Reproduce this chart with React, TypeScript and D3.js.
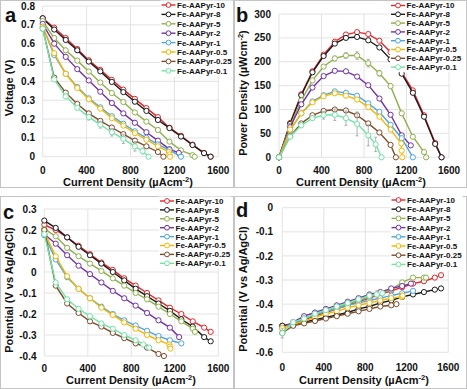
import React from 'react';
import * as d3 from 'd3';

// series names + colours (legend order)
const NAMES = ['Fe-AAPyr-10', 'Fe-AAPyr-8', 'Fe-AAPyr-5', 'Fe-AAPyr-2', 'Fe-AAPyr-1', 'Fe-AAPyr-0.5', 'Fe-AAPyr-0.25', 'Fe-AAPyr-0.1'];
const COLORS = ['#e3262b', '#1b1b1b', '#8fb04c', '#7232a3', '#4ba6e0', '#f2b705', '#7d4b2b', '#72e3a6'];

// current density (µA cm-2) sampled for each series
const I10 = [0, 105, 210, 315, 420, 525, 630, 735, 840, 945, 1050, 1155, 1260, 1365, 1470, 1530];
const I8 = [0, 105, 210, 315, 420, 525, 630, 735, 840, 945, 1050, 1155, 1260, 1365, 1470, 1530];
const I5 = [0, 105, 210, 315, 420, 525, 630, 735, 840, 945, 1050, 1155, 1260, 1365, 1385];
const I2 = [0, 105, 210, 315, 420, 525, 630, 735, 840, 945, 1050, 1155, 1240];
const I1 = [0, 105, 210, 315, 420, 525, 630, 735, 840, 945, 1050, 1155, 1260];
const I05 = [0, 105, 210, 315, 420, 525, 630, 735, 840, 945, 1050, 1150, 1155, 1160];
const I025 = [0, 105, 210, 315, 420, 525, 630, 735, 840, 945, 1050, 1100];
const I01 = [0, 105, 210, 315, 420, 525, 630, 735, 840, 910, 965];

// (a) cell voltage, V
const V10 = [0.735, 0.685, 0.63, 0.572, 0.512, 0.461, 0.408, 0.356, 0.307, 0.258, 0.21, 0.154, 0.111, 0.064, 0.02, 0];
const V8 = [0.735, 0.675, 0.62, 0.565, 0.505, 0.453, 0.397, 0.343, 0.292, 0.243, 0.195, 0.152, 0.107, 0.062, 0.019, 0];
const V5 = [0.72, 0.63, 0.565, 0.51, 0.452, 0.394, 0.338, 0.29, 0.235, 0.186, 0.142, 0.08, 0.034, 0.008, 0];
const V2 = [0.705, 0.6, 0.53, 0.465, 0.405, 0.345, 0.285, 0.23, 0.18, 0.13, 0.085, 0.04, 0.02];
const V1 = [0.69, 0.54, 0.44, 0.37, 0.31, 0.262, 0.215, 0.175, 0.135, 0.1, 0.065, 0.035, 0];
const V05 = [0.69, 0.55, 0.44, 0.365, 0.305, 0.255, 0.205, 0.165, 0.125, 0.09, 0.055, 0.025, 0.012, 0];
const V025 = [0.68, 0.42, 0.34, 0.28, 0.23, 0.19, 0.155, 0.12, 0.085, 0.055, 0.025, 0];
const V01 = [0.68, 0.41, 0.32, 0.26, 0.21, 0.17, 0.13, 0.095, 0.055, 0.03, 0];
const V01err = [0, 0.01, 0.012, 0.012, 0.015, 0.018, 0.02, 0.025, 0.025, 0.015, 0];

// (b) power density, µW cm-2
const P10 = [0, 72, 132, 180, 215, 242, 257, 262, 258, 244, 220, 178, 140, 88, 30, 0];
const P8 = [0, 70, 130, 178, 212, 238, 250, 252, 245, 230, 205, 175, 135, 85, 28, 0];
const P5 = [0, 66, 119, 161, 190, 207, 213, 213, 197, 176, 149, 92, 43, 11, 0];
const P2 = [0, 63, 111, 146, 170, 181, 180, 169, 151, 123, 89, 46, 25];
const P1 = [0, 57, 92, 117, 130, 138, 135, 129, 113, 95, 68, 40, 0];
const P05 = [0, 58, 92, 115, 128, 134, 129, 121, 105, 85, 58, 29, 14, 0];
const P025 = [0, 44, 71, 88, 97, 100, 98, 88, 71, 52, 26, 0];
const P01 = [0, 43, 67, 82, 88, 89, 82, 70, 46, 27, 0];
const P5err = [0, 2, 3, 3, 4, 5, 6, 8, 8, 6, 5, 4, 3, 0, 0];
const P01err = [0, 3, 5, 5, 8, 12, 15, 25, 22, 15, 0];

// (c) cathode potential, V vs Ag/AgCl
const C10 = [0.225, 0.2, 0.165, 0.125, 0.085, 0.045, 0.01, -0.03, -0.065, -0.1, -0.135, -0.17, -0.2, -0.235, -0.265, -0.285];
const C8 = [0.245, 0.21, 0.165, 0.12, 0.08, 0.04, 0, -0.04, -0.08, -0.115, -0.15, -0.185, -0.225, -0.26, -0.31, -0.33];
const C5 = [0.205, 0.17, 0.115, 0.075, 0.04, 0.005, -0.03, -0.065, -0.1, -0.13, -0.165, -0.2, -0.235, -0.27, -0.285];
const C2 = [0.18, 0.135, 0.08, 0.03, -0.01, -0.05, -0.09, -0.125, -0.16, -0.195, -0.23, -0.265, -0.31];
const C1 = [0.175, 0.06, -0.025, -0.08, -0.125, -0.165, -0.2, -0.23, -0.255, -0.28, -0.305, -0.325, -0.34];
const C05 = [0.19, 0.075, -0.02, -0.08, -0.125, -0.17, -0.205, -0.24, -0.27, -0.3, -0.325, -0.345, -0.355, -0.365];
const C025 = [0.2, -0.065, -0.15, -0.195, -0.235, -0.26, -0.29, -0.315, -0.34, -0.36, -0.39, -0.4];
const C01 = [0.18, -0.05, -0.13, -0.175, -0.21, -0.245, -0.27, -0.3, -0.325, -0.345, -0.36];

// (d) anode potential, V vs Ag/AgCl
const A10 = [-0.49, -0.48, -0.465, -0.45, -0.435, -0.42, -0.405, -0.39, -0.375, -0.36, -0.345, -0.33, -0.315, -0.305, -0.29, -0.28];
const A8 = [-0.49, -0.485, -0.475, -0.465, -0.455, -0.445, -0.435, -0.42, -0.41, -0.395, -0.385, -0.37, -0.36, -0.35, -0.34, -0.335];
const A5 = [-0.5, -0.48, -0.46, -0.445, -0.43, -0.415, -0.4, -0.385, -0.37, -0.355, -0.34, -0.31, -0.29, -0.29, -0.29];
const A2 = [-0.5, -0.475, -0.45, -0.435, -0.42, -0.405, -0.39, -0.375, -0.36, -0.35, -0.335, -0.325, -0.315];
const A1 = [-0.5, -0.48, -0.46, -0.445, -0.43, -0.42, -0.405, -0.395, -0.385, -0.375, -0.365, -0.355, -0.345];
const A05 = [-0.5, -0.485, -0.47, -0.455, -0.44, -0.43, -0.415, -0.405, -0.395, -0.385, -0.375, -0.37, -0.365, -0.365];
const A025 = [-0.52, -0.49, -0.48, -0.47, -0.46, -0.45, -0.44, -0.43, -0.42, -0.41, -0.405, -0.4];
const A01 = [-0.52, -0.475, -0.46, -0.44, -0.425, -0.41, -0.395, -0.38, -0.365, -0.36, -0.355];
const A01err = [0.02, 0.01, 0.01, 0.01, 0.01, 0.01, 0.012, 0.015, 0.015, 0.015, 0.01];

const X_TICKS = [0, 400, 800, 1200, 1600];
const CURRENTS = [I10, I8, I5, I2, I1, I05, I025, I01];

const FONT = '"Liberation Sans", Arial, sans-serif';

type Cfg = {
  letter: string; lx: number; ly: number;
  box: [number, number, number, number];
  xr: [number, number]; yr: [number, number]; yd: [number, number]; yTickCount: number;
  ys: number[][]; errs: (number[] | null)[];
  yLabelX: number; xLabelY: number; titleY: number; titleX: number;
  yTitle: string; yTitleSup?: string; yTitleEnd?: string; yTitleX: number; yTitleY: number;
  legX: number; legY: number; legStep: number;
};

const panels: Cfg[] = [
  {
    letter: 'a', lx: 5, ly: 22, box: [0.5, 0.5, 233, 187],
    xr: [42.7, 218.3], yr: [156.7, 6], yd: [0, 0.8], yTickCount: 8,
    ys: [V10, V8, V5, V2, V1, V05, V025, V01],
    errs: [null, null, null, null, null, null, null, V01err],
    yLabelX: 35, xLabelY: 173.5, titleX: 128, titleY: 185.5,
    yTitle: 'Voltage (V)', yTitleX: 13, yTitleY: 88,
    legX: 161.5, legY: 5, legStep: 9.4,
  },
  {
    letter: 'b', lx: 236, ly: 22, box: [234.5, 0.5, 232, 187],
    xr: [279, 449], yr: [157.3, 14], yd: [0, 300], yTickCount: 6,
    ys: [P10, P8, P5, P2, P1, P05, P025, P01],
    errs: [null, null, P5err, null, null, null, null, P01err],
    yLabelX: 271, xLabelY: 173.5, titleX: 361, titleY: 185.5,
    yTitle: 'Power Density (µWcm', yTitleSup: '-2', yTitleEnd: ')', yTitleX: 247, yTitleY: 93,
    legX: 391, legY: 5.5, legStep: 8.8,
  },
  {
    letter: 'c', lx: 3, ly: 219, box: [0.5, 196.5, 233, 192],
    xr: [44.3, 218.3], yr: [356, 209], yd: [-0.4, 0.3], yTickCount: 7,
    ys: [C10, C8, C5, C2, C1, C05, C025, C01],
    errs: [null, null, null, null, null, null, null, null],
    yLabelX: 36.5, xLabelY: 371.5, titleX: 131, titleY: 383.5,
    yTitle: 'Potential (V vs Ag/AgCl)', yTitleX: 13, yTitleY: 290,
    legX: 160, legY: 201, legStep: 8.9,
  },
  {
    letter: 'd', lx: 236, ly: 217, box: [234.5, 196.5, 232, 192],
    xr: [282.3, 448.3], yr: [352.3, 207.7], yd: [-0.6, 0], yTickCount: 6,
    ys: [A10, A8, A5, A2, A1, A05, A025, A01],
    errs: [null, null, null, null, null, null, null, A01err],
    yLabelX: 273, xLabelY: 370.5, titleX: 364, titleY: 383.5,
    yTitle: 'Potential (V vs Ag/AgCl)', yTitleX: 247, yTitleY: 289,
    legX: 391.5, legY: 200, legStep: 9.2,
  },
];

const fmt = (d: number) => String(Math.round(d * 10) / 10);

function Panel({ cfg }: { cfg: Cfg }) {
  const x = d3.scaleLinear().domain([0, 1600]).range(cfg.xr);
  const y = d3.scaleLinear().domain(cfg.yd).range(cfg.yr);
  const yTicks = y.ticks(cfg.yTickCount);
  const [bx, by, bw, bh] = cfg.box;
  const line = d3.line<[number, number]>().x(d => x(d[0])).y(d => y(d[1]));
  const legW = 72;

  return (
    <g fontFamily={FONT} fontWeight="bold">
      <rect x={bx} y={by} width={bw} height={bh} fill="#fff" stroke="#c4c4c4" strokeWidth={1} />
      {/* grid */}
      {yTicks.map(t => (
        <line key={'gy' + t} x1={cfg.xr[0]} x2={cfg.xr[1]} y1={y(t)} y2={y(t)} stroke="#dcdcdc" strokeWidth={0.8} />
      ))}
      {X_TICKS.map(t => (
        <line key={'gx' + t} x1={x(t)} x2={x(t)} y1={cfg.yr[0]} y2={cfg.yr[1]} stroke="#dcdcdc" strokeWidth={0.8} />
      ))}
      {/* tick labels */}
      {yTicks.map(t => (
        <text key={'ty' + t} x={cfg.yLabelX} y={y(t) + 3.6} fontSize={10} textAnchor="end" fill="#111">{fmt(t)}</text>
      ))}
      {X_TICKS.map(t => (
        <text key={'tx' + t} x={x(t)} y={cfg.xLabelY} fontSize={10} textAnchor="middle" fill="#111">{t}</text>
      ))}
      <text x={cfg.titleX} y={cfg.titleY} fontSize={11} textAnchor="middle" fill="#111">
        Current Density (µAcm<tspan dy={-4} fontSize={7.5}>-2</tspan><tspan dy={4}>)</tspan>
      </text>
      <text transform={`translate(${cfg.yTitleX},${cfg.yTitleY}) rotate(-90)`} fontSize={11} textAnchor="middle" fill="#111">
        {cfg.yTitle}
        {cfg.yTitleSup ? <tspan dy={-4} fontSize={7.5}>{cfg.yTitleSup}</tspan> : null}
        {cfg.yTitleEnd ? <tspan dy={4}>{cfg.yTitleEnd}</tspan> : null}
      </text>
      <text x={cfg.lx} y={cfg.ly} fontSize={20} fill="#111">{cfg.letter}</text>
      {/* series */}
      {cfg.ys.map((ys, si) => {
        const pts = ys.map((v, i) => [CURRENTS[si][i], v] as [number, number]);
        const err = cfg.errs[si];
        return (
          <g key={si}>
            {err && pts.map((p, i) => err[i] > 0 ? (
              <g key={'e' + i} stroke="#9e9e9e" strokeWidth={0.8}>
                <line x1={x(p[0])} x2={x(p[0])} y1={y(p[1] - err[i])} y2={y(p[1] + err[i])} />
                <line x1={x(p[0]) - 1.5} x2={x(p[0]) + 1.5} y1={y(p[1] + err[i])} y2={y(p[1] + err[i])} />
                <line x1={x(p[0]) - 1.5} x2={x(p[0]) + 1.5} y1={y(p[1] - err[i])} y2={y(p[1] - err[i])} />
              </g>
            ) : null)}
            <path d={line(pts) || ''} fill="none" stroke={COLORS[si]} strokeWidth={1.4} />
            {pts.map((p, i) => (
              <circle key={i} cx={x(p[0])} cy={y(p[1])} r={2.6} fill="#fff" stroke={COLORS[si]} strokeWidth={1} />
            ))}
          </g>
        );
      })}
      {/* legend */}
      <rect x={cfg.legX - 1} y={cfg.legY - 4.5} width={legW} height={cfg.legStep * 8 + 1} fill="#fff" />
      {NAMES.map((n, i) => {
        const ly = cfg.legY + i * cfg.legStep;
        return (
          <g key={n}>
            <line x1={cfg.legX} x2={cfg.legX + 14} y1={ly} y2={ly} stroke={COLORS[i]} strokeWidth={1.4} />
            <circle cx={cfg.legX + 7} cy={ly} r={2.4} fill="#fff" stroke={COLORS[i]} strokeWidth={1} />
            <text x={cfg.legX + 15.5} y={ly + 2.9} fontSize={8} fill="#111">{n}</text>
          </g>
        );
      })}
    </g>
  );
}

export default function App() {
  return (
    <svg width={467} height={389} style={{ position: 'absolute', left: 0, top: 0, background: '#fff' }}>
      <rect width={467} height={389} fill="#fff" />
      {panels.map(p => <Panel key={p.letter} cfg={p} />)}
    </svg>
  );
}
